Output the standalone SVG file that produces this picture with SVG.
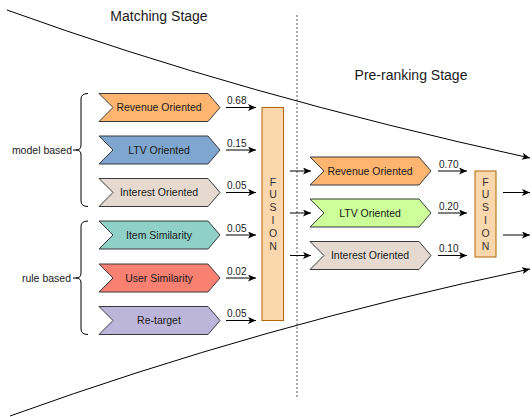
<svg xmlns="http://www.w3.org/2000/svg" xmlns:xlink="http://www.w3.org/1999/xlink" width="532" height="417" viewBox="0 0 532 417">
<style>
text{font-family:"Liberation Sans",Arial,sans-serif;fill:#1a1a1a}
.title{font-size:14px;text-anchor:middle}
.lbl{font-size:10.5px;text-anchor:middle}
.num{font-size:10px}
.side{font-size:10.5px;text-anchor:end}
.chev{stroke:#36393d;stroke-width:1}
.c1{fill:#FFB570}.c2{fill:#7EA6CE}.c3{fill:#E6DAD0}.c4{fill:#8FD0C7}.c5{fill:#FA8072}.c6{fill:#BDB6DB}.c7{fill:#CCFF99}
.fus{fill:#FAD7AC;stroke:#B46504;stroke-width:1}
.ft{font-size:10.5px;text-anchor:middle;fill:#333}
.ln{stroke:#000;stroke-width:1;fill:none}
.brace{stroke:#000;stroke-width:1;fill:none}
</style>
<defs>
<path id="chev" d="M0,0 L109,0 L121,14 L109,28 L0,28 L14,14 Z"/>
<marker id="ar" markerWidth="9" markerHeight="7" refX="8" refY="3.5" orient="auto" markerUnits="userSpaceOnUse">
<path d="M0,0 L8,3.5 L0,7 L2,3.5 Z" fill="#000"/>
</marker>
</defs>
<rect width="532" height="417" fill="#fff"/>
<text class="title" x="159" y="21">Matching Stage</text>
<text class="title" x="411" y="80">Pre-ranking Stage</text>
<line x1="297" y1="15" x2="297" y2="398" stroke="#555" stroke-width="1" stroke-dasharray="2,2"/>
<g id="connectors">
<path class="ln" d="M7,10 Q242,95 530,158" marker-end="url(#ar)"/>
<path class="ln" d="M10,416 Q262,325 530,269" marker-end="url(#ar)"/>
<line class="ln" x1="226" y1="107.5" x2="256" y2="107.5" marker-end="url(#ar)"/>
<line class="ln" x1="226" y1="150" x2="256" y2="150" marker-end="url(#ar)"/>
<line class="ln" x1="226" y1="192.5" x2="256" y2="192.5" marker-end="url(#ar)"/>
<line class="ln" x1="226" y1="235" x2="256" y2="235" marker-end="url(#ar)"/>
<line class="ln" x1="226" y1="278" x2="256" y2="278" marker-end="url(#ar)"/>
<line class="ln" x1="226" y1="320.5" x2="256" y2="320.5" marker-end="url(#ar)"/>
<text class="num" x="227" y="104">0.68</text>
<text class="num" x="227" y="146.5">0.15</text>
<text class="num" x="227" y="189">0.05</text>
<text class="num" x="227" y="231.5">0.05</text>
<text class="num" x="227" y="274.5">0.02</text>
<text class="num" x="227" y="317">0.05</text>
<line class="ln" x1="290" y1="171" x2="311" y2="171" marker-end="url(#ar)"/>
<line class="ln" x1="290" y1="213" x2="311" y2="213" marker-end="url(#ar)"/>
<line class="ln" x1="290" y1="255.5" x2="311" y2="255.5" marker-end="url(#ar)"/>
<line class="ln" x1="438" y1="171" x2="467" y2="171" marker-end="url(#ar)"/>
<line class="ln" x1="438" y1="213" x2="467" y2="213" marker-end="url(#ar)"/>
<line class="ln" x1="438" y1="255.5" x2="467" y2="255.5" marker-end="url(#ar)"/>
<text class="num" x="439" y="167.5">0.70</text>
<text class="num" x="439" y="209.5">0.20</text>
<text class="num" x="439" y="252">0.10</text>
<line class="ln" x1="503" y1="192.5" x2="530" y2="192.5" marker-end="url(#ar)"/>
<line class="ln" x1="503" y1="235" x2="530" y2="235" marker-end="url(#ar)"/>
</g>
<g id="model-based">
<path class="brace" d="M88,93.5 Q81,93.5 81,99 L81,145 Q81,150 76,150 Q81,150 81,155 L81,201 Q81,206.5 88,206.5"/>
<line class="ln" x1="73" y1="150" x2="76" y2="150"/>
<text class="side" x="72" y="153.5">model based</text>
</g>
<g id="rule-based">
<path class="brace" d="M88,221 Q81,221 81,226.5 L81,273 Q81,278 76,278 Q81,278 81,283 L81,329 Q81,334.5 88,334.5"/>
<line class="ln" x1="73" y1="278" x2="76" y2="278"/>
<text class="side" x="71" y="281.5">rule based</text>
</g>
<g id="m-revenue"><use href="#chev" class="chev c1" x="99" y="93.5"/><text class="lbl" x="159" y="111.3">Revenue Oriented</text></g>
<g id="m-ltv"><use href="#chev" class="chev c2" x="99" y="136"/><text class="lbl" x="159" y="153.8">LTV Oriented</text></g>
<g id="m-interest"><use href="#chev" class="chev c3" x="99" y="178.5"/><text class="lbl" x="159" y="196.3">Interest Oriented</text></g>
<g id="m-item"><use href="#chev" class="chev c4" x="99" y="221"/><text class="lbl" x="159" y="238.8">Item Similarity</text></g>
<g id="m-user"><use href="#chev" class="chev c5" x="99" y="264"/><text class="lbl" x="159" y="281.8">User Similarity</text></g>
<g id="m-retarget"><use href="#chev" class="chev c6" x="99" y="306.5"/><text class="lbl" x="159" y="324.3">Re-target</text></g>
<g id="fusion1">
<rect class="fus" x="262" y="107.5" width="21.5" height="213"/>
<text class="ft" x="273" y="185.5">F</text><text class="ft" x="273" y="198.4">U</text><text class="ft" x="273" y="211.3">S</text><text class="ft" x="273" y="224.2">I</text><text class="ft" x="273" y="237.1">O</text><text class="ft" x="273" y="250">N</text>
</g>
<g id="p-revenue"><use href="#chev" class="chev c1" x="310" y="157"/><text class="lbl" x="370" y="174.8">Revenue Oriented</text></g>
<g id="p-ltv"><use href="#chev" class="chev c7" x="310" y="199"/><text class="lbl" x="370" y="216.8">LTV Oriented</text></g>
<g id="p-interest"><use href="#chev" class="chev c3" x="310" y="241.5"/><text class="lbl" x="370" y="259.3">Interest Oriented</text></g>
<g id="fusion2">
<rect class="fus" x="475" y="171" width="21" height="86"/>
<text class="ft" x="485.5" y="185.5">F</text><text class="ft" x="485.5" y="198.4">U</text><text class="ft" x="485.5" y="211.3">S</text><text class="ft" x="485.5" y="224.2">I</text><text class="ft" x="485.5" y="237.1">O</text><text class="ft" x="485.5" y="250">N</text>
</g>
</svg>
